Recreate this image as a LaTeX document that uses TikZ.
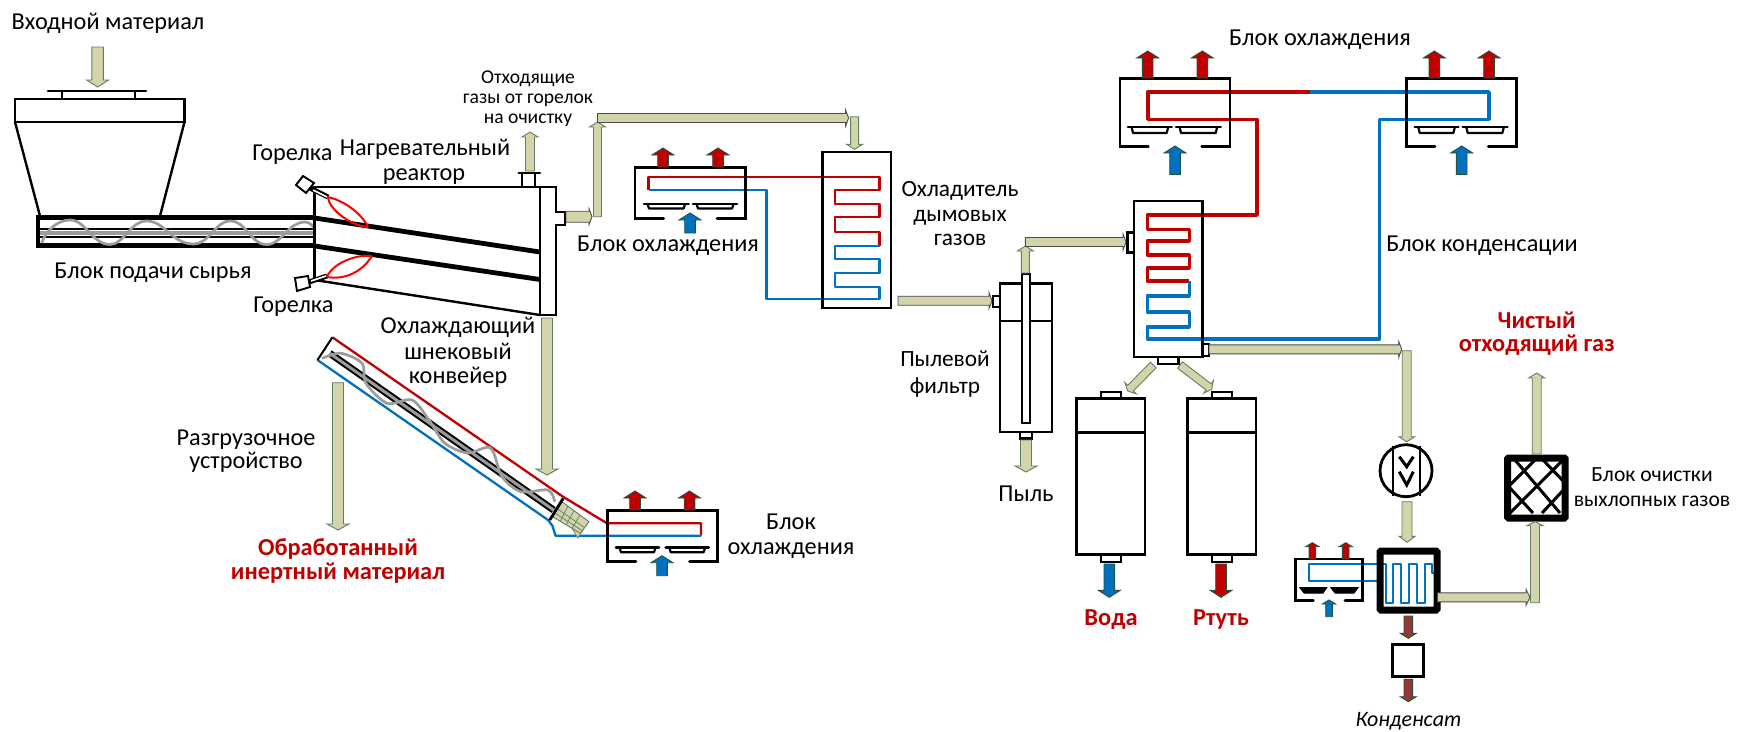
\documentclass[tikz,border=0pt]{standalone}
\usepackage{fontspec}
\setmainfont{Carlito}
\usetikzlibrary{calc}
\definecolor{khaki}{HTML}{D3D4A9}
\definecolor{flowline}{HTML}{5F7F66}
\definecolor{hotred}{HTML}{C00000}
\definecolor{coldblue}{HTML}{0070C0}
\definecolor{rust}{HTML}{953735}
\definecolor{darkgreen}{HTML}{24523F}
\definecolor{screwgray}{HTML}{9C9C9C}
\newcounter{flowno}
\newcommand\flowbw{4.5pt}
\newcommand\flowhw{8pt}
\newcommand\flowhl{5pt}
\tikzset{
  bw/.code={\renewcommand\flowbw{#1}},
  hw/.code={\renewcommand\flowhw{#1}},
  hl/.code={\renewcommand\flowhl{#1}},
  flow/.style={draw=flowline,fill=khaki,line width=0.9pt,line join=miter,
    to path={
      ($(\tikztostart)!\flowbw!90:(\tikztotarget)$)
      -- ($(\tikztotarget)!\flowhl!(\tikztostart)!\flowbw!90:(\tikztotarget)$)
      -- ($(\tikztotarget)!\flowhl!(\tikztostart)!\flowhw!90:(\tikztotarget)$)
      -- (\tikztotarget)
      -- ($(\tikztotarget)!\flowhl!(\tikztostart)!\flowhw!-90:(\tikztotarget)$)
      -- ($(\tikztotarget)!\flowhl!(\tikztostart)!\flowbw!-90:(\tikztotarget)$)
      -- ($(\tikztostart)!\flowbw!-90:(\tikztotarget)$) -- cycle}},
  hotflow/.style={flow,fill=hotred,draw=darkgreen,bw=5.3pt,hw=11pt,hl=7pt},
  coldflow/.style={flow,fill=coldblue,draw=darkgreen,bw=5.3pt,hw=11pt,hl=7pt},
  bigflow/.style={flow,bw=5.5pt,hw=11pt,hl=6pt},
  rustflow/.style={flow,fill=rust,draw=darkgreen,bw=4.3pt,hw=8pt,hl=5pt},
  equip/.style={draw=black,line width=2.4pt,line join=miter,line cap=round},
  heavy/.style={draw=black,line width=4.8pt},
  hotpipe/.style={draw=hotred,line width=2.3pt,line join=round},
  coldpipe/.style={draw=coldblue,line width=2.3pt,line join=round},
  flame/.style={draw=red,line width=2pt},
  screw/.style={draw=screwgray,line width=2.7pt},
  lab/.style={font=\fontsize{24.3}{26}\selectfont,anchor=base,inner sep=0pt,align=center},
  midlab/.style={lab,font=\fontsize{23.3}{26}\selectfont},
  purelab/.style={lab,font=\fontsize{21.6}{24}\selectfont},
  smalllab/.style={font=\fontsize{19.6}{20}\selectfont,anchor=base,inner sep=0pt,align=center},
  boldlab/.style={font=\fontsize{24.4}{26}\selectfont\bfseries,text=hotred,anchor=base,inner sep=0pt,align=center},
  vessel/.style={draw=black,line width=2.4pt,inner sep=0pt},
}
% #1 style, #2 start, #3 end: a block arrow between two named coordinates
\newcommand\blockarrow[3][flow]{%
  \stepcounter{flowno}%
  \coordinate (f\theflowno-s) at #2;%
  \coordinate (f\theflowno-e) at #3;%
  \draw[#1] (f\theflowno-s) to (f\theflowno-e);}
% #1 x, #2 y, #3 width, #4 depth
\newcommand\fanblade[4]{%
  \begin{scope}[shift={(#1,#2)}]
    \draw[black,line width=2.2pt,fill=white,line join=round]
      (3.5,0) -- (5,#4) -- ({#3-5},#4) -- ({#3-3.5},0);
    \draw[black,line width=2.8pt,line cap=round] (0,0) -- (#3,0);
  \end{scope}}
% x1 y1 x2 y2 gapL gapR
\newcommand\coolbox[6]{%
  \draw[equip,line width=2.8pt] (#5,#4) -- (#1,#4) -- (#1,#2) -- (#3,#2) -- (#3,#4) -- (#6,#4);}
\begin{document}
\begin{tikzpicture}[x=1pt,y=-1pt]
\path[fill=white,use as bounding box] (0,0) rectangle (1755,731);

% ---------- pipes first (box outlines run over them)
% gas cooler loop
\draw[hotpipe] (648.6,190) -- (648.6,176.7) -- (879.6,176.7) -- (879.6,190) -- (835,190) -- (835,204.3) -- (879.6,204.3) -- (879.6,217.3) -- (835,217.3) -- (835,231.7) -- (879.6,231.7) -- (879.6,245.7);
\draw[coldpipe] (879.6,245.7) -- (835,245.7) -- (835,259.3) -- (879.6,259.3) -- (879.6,272.7) -- (835,272.7) -- (835,286.7) -- (879.6,286.7) -- (879.6,299.3) -- (766.4,299.3) -- (766.4,190) -- (648.6,190);
% condenser loop
\draw[hotpipe,line width=3.6pt] (1310,92) -- (1147.7,92) -- (1147.7,119.3) -- (1257,119.3) -- (1257,215) -- (1147.3,215) -- (1147.3,229.3) -- (1189.3,229.3) -- (1189.3,240.7) -- (1147.3,240.7) -- (1147.3,255) -- (1189.3,255) -- (1189.3,267.7) -- (1147.3,267.7) -- (1147.3,281) -- (1189.3,281);
\draw[coldpipe,line width=3.6pt] (1310,92) -- (1489,92) -- (1489,119.3) -- (1379.3,119.3) -- (1379.3,339) -- (1147.3,339) -- (1147.3,326.7) -- (1189.3,326.7) -- (1189.3,311.7) -- (1147.3,311.7) -- (1147.3,295.7) -- (1189.3,295.7) -- (1189.3,281);
% conveyor jacket loop
\draw[hotpipe] (332.4,337.3) -- (563,496.7) -- (607,523.3) -- (701,523.3) -- (701,535.7);
\draw[coldpipe] (701,535.7) -- (555.5,535.7) -- (552.5,526) -- (548,520) -- (317.5,360);
% small condenser loop
\draw[coldpipe,line width=1.9pt] (1437.3,573.3) -- (1431.7,573.3) -- (1431.7,564) -- (1425,564) -- (1425,602.7) -- (1416.7,602.7) -- (1416.7,564) -- (1409.3,564) -- (1409.3,602.7) -- (1401,602.7) -- (1401,564) -- (1393.3,564) -- (1393.3,602.7) -- (1386,602.7) -- (1386,564) -- (1309.3,564) -- (1309.3,581) -- (1376.7,581);

% ---------- feed hopper
\draw[equip] (15,122) rectangle (184.5,99);
\draw[equip] (15,122) -- (40,216) (184.5,122) -- (160,216);
\draw[equip] (48,91) -- (146,91) (62,91) -- (62,99) (135,91) -- (135,99);
% feed screw
\draw[black,line width=2pt] (40,229) -- (314,229) (40,237.2) -- (314,237.2);
\draw[screwgray,line width=3.5pt] (40,233.2) -- (314,233.2);
\draw[heavy] (36,217.7) -- (314.6,217.7) (36,245.7) -- (314.6,245.7);
\draw[heavy,line width=3.8pt] (38,216) -- (38,248);
\draw[screw] (41.7,243) .. controls (46,230) and (58,220) .. (70,220) .. controls (86,220) and (92,244.5) .. (110,244.5) .. controls (124,244.5) and (130,221) .. (146.7,221) .. controls (165,221) and (172,244) .. (193.3,244) .. controls (210,244) and (215,221) .. (230,221) .. controls (247,221) and (250,244.5) .. (266.7,244.5) .. controls (282,244.5) and (288,222) .. (305,222) .. controls (310,222) and (313,226) .. (315,230);

% ---------- reactor
\draw[equip] (314.6,280) -- (314.6,186.7) -- (556,186.7) -- (556,212) -- (565,212) -- (565,225) -- (556,225) -- (556,315) -- (540,315) -- (540,186.7);
\draw[equip] (314.6,280) -- (540,315);
\draw[heavy,line cap=butt] (314.6,218) -- (540,252);
\draw[heavy,line cap=butt] (314.6,246) -- (540,279.5);
\draw[equip] (522,186.7) -- (522,173) (535,186.7) -- (535,173) (518.6,173) -- (540,173);
% burners
\draw[equip,line width=1.9pt,fill=white] (303,176) -- (314,183) -- (306,193) -- (296,185) -- cycle;
\draw[black,line width=5pt] (310,188) -- (328,197);
\draw[white,line width=1.6pt] (313,190) -- (327,197);
\draw[flame] (328,197) .. controls (345,201) and (362,214) .. (368,227);
\draw[flame] (328,197) .. controls (328,208) and (350,226) .. (368,227);
\draw[equip,line width=1.9pt,fill=white] (295,278) -- (308,276) -- (310,287) -- (297,291) -- cycle;
\draw[black,line width=5pt] (309,282) -- (327,276);
\draw[white,line width=1.6pt] (311,281) -- (326,276);
\draw[flame] (327,277) .. controls (332,264) and (355,254) .. (372,256);
\draw[flame] (327,277) .. controls (345,280) and (362,272) .. (372,256);

% ---------- screw cooling conveyor
\draw[black,line width=2pt] (317.5,360) -- (332.4,337.3);
\draw[black,line width=7pt] (329.7,353.3) -- (553.6,510);
\draw[screwgray,line width=3pt] (329.7,353.3) -- (553.6,510);
\draw[screw] plot[smooth] coordinates {(322,358.3) (341,353.3) (362,363.3) (366,383.3) (387,403.3) (412,400) (429,420) (444.6,443) (467.5,453) (490.5,448) (502,476.7) (521,491.7) (548,490) (554.8,501.7)};
\draw[draw=flowline,fill=khaki,line width=0.7pt] (577.7,538) -- (572,528) -- (584,528) -- cycle;
\draw[draw=flowline,fill=khaki,line width=0.9pt] (562,501.7) -- (589,521.7) -- (580.4,533.3) -- (552.5,516.7) -- cycle;
\draw[flowline,line width=0.7pt] (568,506) -- (560,521.5) (574,510.5) -- (566,525) (580,515) -- (572,528.5) (557.5,509) -- (584.5,527.5) (554.8,513) -- (582,530.5);
\draw[black,line width=2.8pt] (563.2,498.3) -- (549.8,520);

% ---------- exchanger and equipment outlines
\node[vessel,minimum width=68.5pt,minimum height=156pt] (gascooler) at (856.8,229.7) {};
\node[vessel,minimum width=68.3pt,minimum height=155.7pt] (condenser) at (1168.2,278.9) {};
\draw[equip] (1127.3,232.3) rectangle (1134,252.3);
\draw[equip] (1157.7,356.7) rectangle (1178.3,364);
\draw[equip] (1202.3,344) rectangle (1209,355.7);

% dust filter
\node[vessel,minimum width=51.7pt,minimum height=148.4pt] (filter) at (1025.9,357.5) {};
\draw[equip] (1000,321) -- (1051.7,321);
\draw[equip] (993,295.7) rectangle (1000,306.7);
\draw[equip,fill=white] (1022,274) rectangle (1030,422.7);
\draw[equip] (1020,431.7) rectangle (1031.7,438.3);

% tanks
\node[vessel,minimum width=68.3pt,minimum height=156pt] (waterTank) at (1110.8,476.3) {};
\node[vessel,minimum width=68.4pt,minimum height=156pt] (mercuryTank) at (1221.5,476.3) {};
\draw[black,line width=3pt] (1076.7,432.7) -- (1145,432.7) (1187.3,432.7) -- (1255.7,432.7);
\draw[equip] (1101,391.7) rectangle (1121,398.3) (1101,554.3) rectangle (1121,561.7);
\draw[equip] (1211.7,391.7) rectangle (1231.7,398.3) (1211.7,554.3) rectangle (1231.7,561.7);

% ---------- coolers
\coolbox{635}{167.3}{745.7}{218.3}{663.6}{717}
\fanblade{644}{204}{44.6}{4.5}
\fanblade{693}{204}{44}{4.5}
\coolbox{607.2}{510.7}{717.4}{561.7}{636}{689.5}
\fanblade{616}{547.7}{43}{4.5}
\fanblade{665.8}{547.7}{42.8}{4.5}
\coolbox{1120}{78.3}{1230}{146.7}{1148.3}{1201.7}
\fanblade{1128}{127}{43.7}{6}
\fanblade{1176}{127}{44.7}{6}
\coolbox{1406.7}{78.3}{1516.7}{146.7}{1435}{1488.3}
\fanblade{1414.7}{127}{43.7}{6}
\fanblade{1462.7}{127}{44.7}{6}
\coolbox{1295.7}{559}{1362.3}{600.7}{1313.3}{1345}
\draw[black,fill=black,line width=1pt] (1300,587.7) -- (1326.7,587.7) -- (1323,593) -- (1304,593) -- cycle;
\draw[black,fill=black,line width=1pt] (1331,587.7) -- (1358,587.7) -- (1354,593) -- (1335,593) -- cycle;

% ---------- main gas fan, condenser, scrubber
\node[draw=black,line width=2.8pt,circle,minimum size=52pt,inner sep=0pt] (fan) at (1406,470.7) {};
\draw[black,line width=2.2pt] (1393.3,446) -- (1393.3,495.5) (1420,446) -- (1420,495.5);
\draw[black,line width=3pt] (1399.3,456.7) -- (1406.7,466.7) -- (1413.3,456.7) (1399.3,471.7) -- (1406.7,485) -- (1413.3,471.7);
\node[draw=black,line width=7pt,minimum width=57pt,minimum height=59pt,inner sep=0pt,rounded corners=1pt] (aftercond) at (1408.5,580.5) {};
\node[draw=black,line width=2.8pt,minimum width=31pt,minimum height=32pt,inner sep=0pt] (trap) at (1408.3,660.3) {};
\begin{scope}
  \clip (1510,460) rectangle (1563,517);
  \draw[black,line width=3pt] (1515,460) -- (1560,513) (1543,460) -- (1570,488) (1510,488) -- (1533,513)
    (1563,460) -- (1510,513) (1535,460) -- (1510,485) (1568,485) -- (1542,513);
\end{scope}
\node[draw=black,line width=7pt,minimum width=57.5pt,minimum height=60pt,inner sep=0pt,rounded corners=1pt] (scrubber) at (1536.4,488) {};

% ---------- block arrows
\blockarrow[flow,bw=5.7pt,hw=11pt,hl=7pt]{(97.6,47)}{(97.6,87)}
\blockarrow[flow,bw=4.5pt,hw=8pt,hl=5pt]{(530,171)}{(530,132)}
\blockarrow[flow,draw=black!70,bw=5.5pt,hw=8pt,hl=3pt]{(566,216.7)}{(592,216.7)}
\blockarrow[flow,bw=4pt,hw=8pt,hl=5pt]{(597.5,216.7)}{(597.5,122)}
\blockarrow[flow,draw=black!70,bw=4.5pt,hw=8pt,hl=3pt]{(597.5,118)}{(848.6,118)}
\blockarrow[flow,bw=4pt,hw=8pt,hl=5pt]{(854.6,116.7)}{(854.6,149.3)}
\blockarrow[flow,draw=black!70,bw=4.5pt,hw=8pt,hl=3pt]{(898,300.7)}{(992,300.7)}
\blockarrow[flow,bw=4pt,hw=8pt,hl=5pt]{(1025.4,273)}{(1025.4,246)}
\blockarrow[flow,draw=black!70,bw=4.5pt,hw=8pt,hl=3pt]{(1025.4,242)}{(1126,242)}
\blockarrow[bigflow]{(1026,440)}{(1026,472)}
\blockarrow[bigflow]{(547,318)}{(547,475)}
\blockarrow[bigflow]{(338,382.7)}{(338,530)}
\blockarrow[flow,bw=4pt,hw=8pt,hl=4pt]{(1153.3,365)}{(1127.7,391)}
\blockarrow[flow,bw=4pt,hw=8pt,hl=4pt]{(1180,365)}{(1211.7,389.3)}
\blockarrow[flow,draw=black!70,bw=4.5pt,hw=8pt,hl=3pt]{(1209,349.3)}{(1401.7,349.3)}
\blockarrow[flow,bw=4.5pt,hw=8pt,hl=5pt]{(1406.7,350.7)}{(1406.7,441.7)}
\blockarrow[flow,bw=5pt,hw=8pt,hl=6pt]{(1407,501.7)}{(1407,542.3)}
\blockarrow[flow,draw=black!70,bw=4.5pt,hw=8pt,hl=4pt]{(1437.3,597.3)}{(1530,597.3)}
\blockarrow[flow,bw=4.5pt,hw=8pt,hl=4pt]{(1535,602.7)}{(1535,521.7)}
\blockarrow[flow,bw=4.5pt,hw=8pt,hl=5pt]{(1536.7,454)}{(1536.7,373)}
\blockarrow[rustflow]{(1408.3,616)}{(1408.3,638.3)}
\blockarrow[rustflow]{(1408.3,679.3)}{(1408.3,701.7)}
% fluid arrows
\blockarrow[hotflow]{(663,167)}{(663,148)}
\blockarrow[hotflow]{(718,167)}{(718,148)}
\blockarrow[coldflow]{(690,233)}{(690,213)}
\blockarrow[hotflow]{(635,510)}{(635,491)}
\blockarrow[hotflow]{(689.5,510)}{(689.5,491)}
\blockarrow[coldflow]{(662,575.7)}{(662,555.7)}
\blockarrow[hotflow]{(1147.7,78)}{(1147.7,51)}
\blockarrow[hotflow]{(1202.3,78)}{(1202.3,51)}
\blockarrow[coldflow]{(1175,174.3)}{(1175,146)}
\blockarrow[hotflow]{(1434.3,78)}{(1434.3,51)}
\blockarrow[hotflow]{(1489,78)}{(1489,51)}
\blockarrow[coldflow]{(1461.7,174.3)}{(1461.7,146)}
\blockarrow[hotflow,bw=3.3pt,hw=6.7pt,hl=4pt]{(1312.3,559)}{(1312.3,542.7)}
\blockarrow[hotflow,bw=3.3pt,hw=6.7pt,hl=4pt]{(1345.7,559)}{(1345.7,542.7)}
\blockarrow[coldflow,bw=3.3pt,hw=6.7pt,hl=4pt]{(1329,616.7)}{(1329,600)}
\blockarrow[coldflow,hw=11pt]{(1109.3,564)}{(1109.3,597.3)}
\blockarrow[hotflow]{(1221,564)}{(1221,597.3)}

% ---------- labels
\node[lab] (lInput) at (108,29.5) {Входной материал};
\node[smalllab] (lExhaust) at (528,83) {Отходящие};
\node[smalllab] (lExhaust2) at (528,103) {газы от горелок};
\node[smalllab] (lExhaust3) at (528,123) {на очистку};
\node[lab] (lBurnerTop) at (292.5,160) {Горелка};
\node[lab] (lReactor) at (425,155) {Нагревательный};
\node[lab] (lReactor2) at (424,180) {реактор};
\node[lab] (lFeed) at (153,278) {Блок подачи сырья};
\node[lab] (lBurnerBot) at (293.5,312) {Горелка};
\node[lab] (lConv) at (458,333.5) {Охлаждающий};
\node[lab] (lConv2) at (458,359) {шнековый};
\node[lab] (lConv3) at (458,383.3) {конвейер};
\node[lab] (lDis) at (246,445.5) {Разгрузочное};
\node[lab] (lDis2) at (246,468.5) {устройство};
\node[boldlab] (lOut) at (338,555) {Обработанный};
\node[boldlab] (lOut2) at (338,579) {инертный материал};
\node[lab] (lC4) at (791,529) {Блок};
\node[lab] (lC4b) at (791,554) {охлаждения};
\node[lab] (lC1) at (668,251) {Блок охлаждения};
\node[midlab] (lGas) at (960,196) {Охладитель};
\node[midlab] (lGas2) at (960,221.7) {дымовых};
\node[midlab] (lGas3) at (960,245) {газов};
\node[midlab] (lDust) at (945,366) {Пылевой};
\node[midlab] (lDust2) at (945,393) {фильтр};
\node[lab] (lDustOut) at (1026,501.7) {Пыль};
\node[lab] (lC23) at (1320,45) {Блок охлаждения};
\node[lab] (lCond) at (1482,251.7) {Блок конденсации};
\node[boldlab] (lClean) at (1536.7,328) {Чистый};
\node[boldlab] (lClean2) at (1536.7,351.7) {отходящий газ};
\node[purelab] (lPur) at (1652,481.7) {Блок очистки};
\node[purelab] (lPur2) at (1652,506) {выхлопных газов};
\node[boldlab] (lWater) at (1111,625.7) {Вода};
\node[boldlab] (lHg) at (1221,625.7) {Ртуть};
\node[lab,font=\fontsize{22}{24}\selectfont\itshape] (lCon) at (1408.5,726) {Конденсат};
\end{tikzpicture}
\end{document}
